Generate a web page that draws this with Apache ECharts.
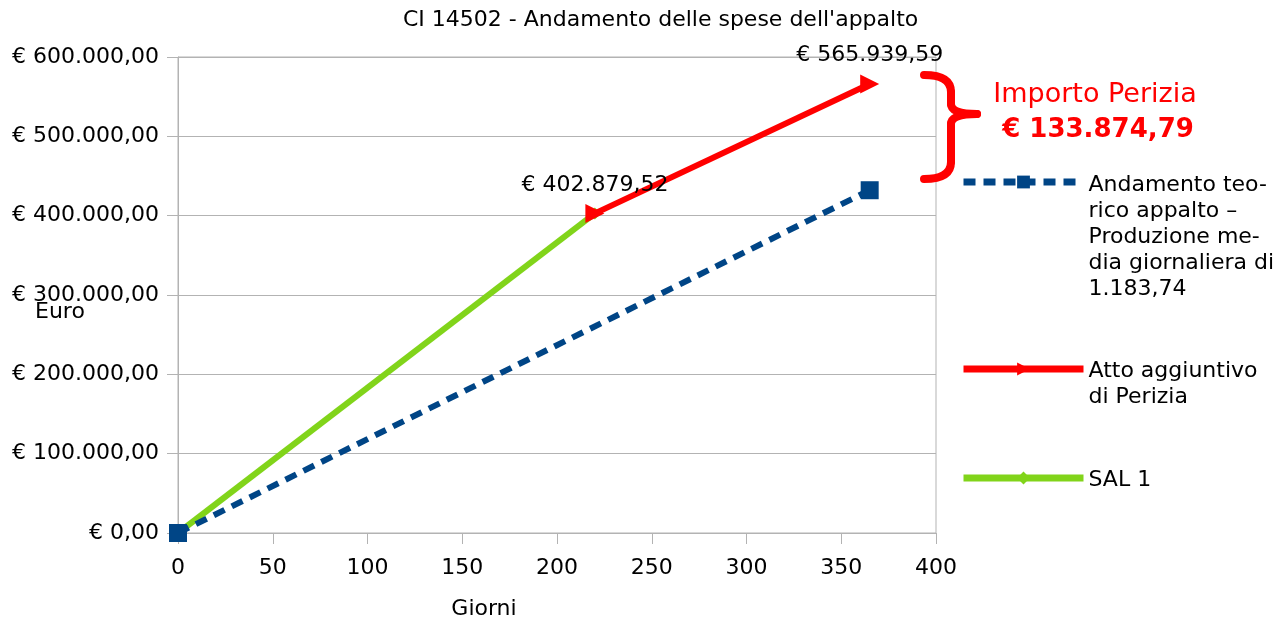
<!DOCTYPE html>
<html>
<head>
<meta charset="utf-8">
<script src="https://cdn.jsdelivr.net/npm/echarts@6/dist/echarts.min.js"></script>
<style>
  html, body { margin: 0; padding: 0; background: #ffffff; }
  #chart { width: 1285px; height: 619px; }
</style>
</head>
<body>
<div id="chart"></div>
<script>
// ---- data ----
const chartTitle = "CI 14502 - Andamento delle spese dell'appalto";
const xAxisName = 'Giorni';
const yAxisName = 'Euro';

const nameTeorico = 'Andamento teo-\nrico appalto –\nProduzione me-\ndia giornaliera di\n1.183,74';
const namePerizia = 'Atto aggiuntivo\ndi Perizia';
const nameSal = 'SAL 1';

const giorniTeorico = [0, 365];
const euroTeorico = [0, 432065.10];

const giorniPerizia = [220, 365];
const euroPerizia = [402879.52, 565939.59];

const giorniSal = [0, 220];
const euroSal = [0, 402879.52];

const xTicks = { min: 0, max: 400, interval: 50 };
const yTicks = { min: 0, max: 600000, interval: 100000 };

const noteTitle = 'Importo Perizia';
const noteValue = '€ 133.874,79';

// ---- helpers ----
const FONT = '"DejaVu Sans", Verdana, sans-serif';
function fmtEuro(v) {
  const parts = Number(v).toFixed(2).split('.');
  return '€ ' + parts[0].replace(/\B(?=(\d{3})+(?!\d))/g, '.') + ',' + parts[1];
}
function zip(xs, ys) { return xs.map((x, i) => [x, ys[i]]); }

const GRAY = '#b3b3b3';
const BLUE = '#004586';
const RED = '#ff0000';
const GREEN = '#81d41a';

const LH = 26;
function legendFor(name, nLines, iconCenterY, shift) {
  const pt = (nLines - 1) * LH + 2 * shift;
  const H = nLines * LH + pt;
  return {
    data: [name],
    orient: 'vertical',
    left: 960,
    top: iconCenterY - H / 2,
    padding: 0,
    itemWidth: 120,
    itemHeight: 16,
    selectedMode: false,
    lineStyle: { width: 7 },
    textStyle: {
      fontFamily: FONT, fontSize: 22, color: '#000', lineHeight: LH,
      padding: [pt, 0, 0, 0],
      rich: { a: { fontSize: 22, lineHeight: LH } }
    }
  };
}

const chart = echarts.init(document.getElementById('chart'), null, { renderer: 'canvas' });

const braceStyle = { stroke: RED, lineWidth: 8, fill: null, lineCap: 'round' };

chart.setOption({
  animation: false,
  backgroundColor: '#ffffff',
  textStyle: { fontFamily: FONT },
  title: {
    text: chartTitle,
    left: 403,
    top: 9,
    padding: 0,
    textStyle: { fontFamily: FONT, fontSize: 22, fontWeight: 'normal', color: '#000' }
  },
  grid: {
    left: 178, right: 349, top: 57, bottom: 86,
    show: true, borderColor: GRAY, borderWidth: 1, backgroundColor: 'transparent'
  },
  xAxis: {
    type: 'value',
    min: xTicks.min, max: xTicks.max, interval: xTicks.interval,
    axisLine: { show: true, lineStyle: { color: GRAY, width: 1 } },
    axisTick: { show: true, length: 11, lineStyle: { color: GRAY } },
    axisLabel: { margin: 24, fontSize: 22, color: '#000', fontFamily: FONT },
    splitLine: { show: false }
  },
  yAxis: {
    type: 'value',
    min: yTicks.min, max: yTicks.max, interval: yTicks.interval,
    axisLine: { show: true, lineStyle: { color: GRAY, width: 1 } },
    axisTick: { show: true, length: 11, lineStyle: { color: GRAY } },
    axisLabel: { margin: 19, fontSize: 22, color: '#000', fontFamily: FONT, formatter: fmtEuro },
    splitLine: { show: true, lineStyle: { color: GRAY, width: 1 } }
  },
  legend: [
    legendFor(nameTeorico, 5, 182, 3),
    legendFor(namePerizia, 2, 369, 2),
    legendFor(nameSal, 1, 478, 2)
  ],
  series: [
    {
      name: nameTeorico,
      type: 'line',
      data: zip(giorniTeorico, euroTeorico),
      symbol: 'rect',
      symbolSize: 18,
      lineStyle: { color: BLUE, width: 6, type: [12, 8] },
      itemStyle: { color: BLUE },
      z: 4
    },
    {
      name: namePerizia,
      type: 'line',
      data: zip(giorniPerizia, euroPerizia),
      symbol: 'path://M0,0L10,5L0,10Z',
      symbolSize: [19, 19],
      lineStyle: { color: RED, width: 6 },
      itemStyle: { color: RED },
      label: {
        show: true, position: 'top', distance: 8,
        fontFamily: FONT, fontSize: 22, color: '#000',
        formatter: p => fmtEuro(p.value[1])
      },
      z: 3
    },
    {
      name: nameSal,
      type: 'line',
      data: zip(giorniSal, euroSal),
      symbol: 'diamond',
      symbolSize: 12,
      lineStyle: { color: GREEN, width: 6 },
      itemStyle: { color: GREEN },
      z: 2
    }
  ],
  graphic: [
    { type: 'text', left: 35, top: 301, style: { text: yAxisName, font: '22px ' + FONT, fill: '#000' } },
    { type: 'text', x: 484, y: 609, style: { text: xAxisName, font: '22px ' + FONT, fill: '#000', align: 'center', verticalAlign: 'middle' } },
    { type: 'text', x: 1095, y: 95, style: { text: noteTitle, font: '27px ' + FONT, fill: RED, align: 'center', verticalAlign: 'middle' } },
    { type: 'text', x: 1098, y: 130, style: { text: noteValue, font: 'bold 26px ' + FONT, fill: RED, align: 'center', verticalAlign: 'middle' } },
    { type: 'bezierCurve', shape: { x1: 924, y1: 75, cpx1: 951, cpy1: 75, x2: 951, y2: 92 }, style: braceStyle },
    { type: 'line', shape: { x1: 951, y1: 92, x2: 951, y2: 104 }, style: braceStyle },
    { type: 'bezierCurve', shape: { x1: 951, y1: 104, cpx1: 951, cpy1: 114, x2: 977, y2: 114 }, style: braceStyle },
    { type: 'bezierCurve', shape: { x1: 977, y1: 114, cpx1: 951, cpy1: 114, x2: 951, y2: 124 }, style: braceStyle },
    { type: 'line', shape: { x1: 951, y1: 124, x2: 951, y2: 162 }, style: braceStyle },
    { type: 'bezierCurve', shape: { x1: 951, y1: 162, cpx1: 951, cpy1: 179, x2: 924, y2: 179 }, style: braceStyle }
  ]
});
</script>
</body>
</html>
